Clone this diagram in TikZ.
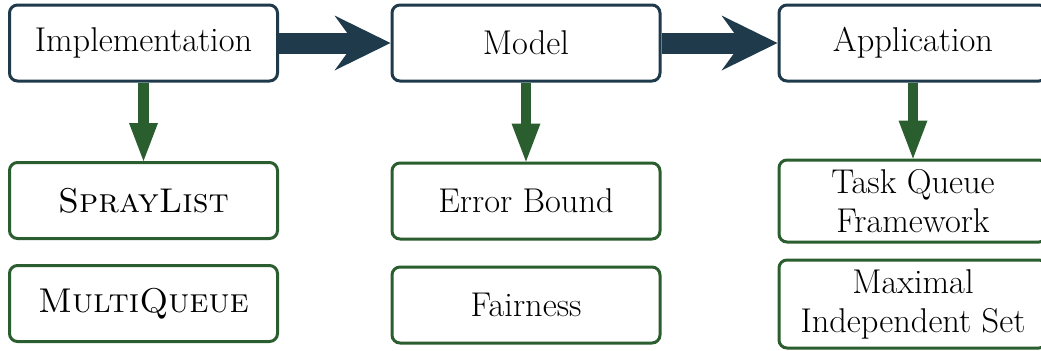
\documentclass[tikz,border=0pt]{standalone}
\usetikzlibrary{arrows.meta}
\definecolor{topc}{HTML}{1F3A4A}
\definecolor{subc}{HTML}{2A5E2E}
\begin{document}
\begin{tikzpicture}[x=0.5pt,y=-0.5pt,
  font=\fontsize{17.2}{19.5}\selectfont,
  topbox/.style={draw=topc, line width=1.5pt, rounded corners=4pt, fill=white,
    minimum width=134pt, minimum height=38pt, align=center, inner sep=0pt},
  subbox/.style={topbox, draw=subc},
  hflow/.style={draw=topc, line width=10.5pt,
    -{Stealth[length=28pt,width=27.5pt,inset=10pt,line width=0pt]}},
  vflow/.style={draw=subc, line width=5.2pt,
    -{Triangle[length=19pt,width=14.5pt,line width=0pt]}}]
\useasboundingbox (0,0) rectangle (1041,350);
\node[topbox] (impl) at (143.5,43) {Implementation};
\node[topbox] (model) at (526,43) {Model};
\node[topbox] (app) at (913,43) {Application};
\node[subbox] (spray) at (143.5,200.5) {\textsc{SprayList}};
\node[subbox] (multi) at (143.5,303.5) {\textsc{MultiQueue}};
\node[subbox] (err) at (526,201) {Error Bound};
\node[subbox] (fair) at (526,305) {Fairness};
\node[subbox, minimum height=41pt] (task) at (913,201) {Task Queue\\Framework};
\node[subbox, minimum height=44pt] (mis) at (913,304) {Maximal\\Independent Set};
\draw[hflow] (impl) -- (model);
\draw[hflow] (model) -- (app);
\draw[vflow] (impl) -- (spray);
\draw[vflow] (model) -- (err);
\draw[vflow] (app) -- (task);
\end{tikzpicture}
\end{document}
